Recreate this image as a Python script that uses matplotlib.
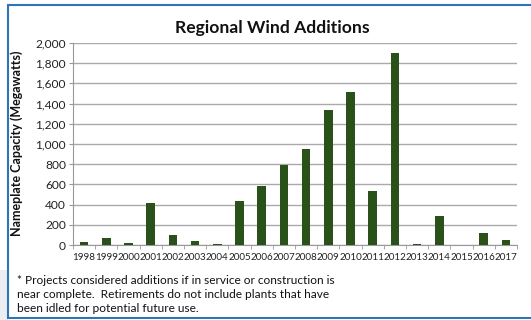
import matplotlib.pyplot as plt
import numpy as np
from matplotlib.patches import Rectangle

years = [str(y) for y in range(1998, 2018)]
capacity_mw = [25, 65, 15, 420, 95, 40, 5, 440, 580, 790, 950, 1340,
               1510, 530, 1905, 5, 285, 0, 115, 50]

note = ("* Projects considered additions if in service or construction is\n"
        "near complete.  Retirements do not include plants that have\n"
        "been idled for potential future use.")

plt.rcParams["font.family"] = ["Lato", "DejaVu Sans"]

fig = plt.figure(figsize=(5.31, 3.20), dpi=100)

# outer frame + faint grey strip at bottom left
fig.patches.append(Rectangle((0, 0), 8 / 531, 50 / 320, transform=fig.transFigure,
                             facecolor="#eceef1", edgecolor="none", zorder=0))
fig.patches.append(Rectangle((8 / 531, 2 / 320), 1.0, 313 / 320, transform=fig.transFigure,
                             facecolor="white", edgecolor="#2e75b6", linewidth=1.5, zorder=1))

ax = fig.add_axes([73 / 531, 1 - 245 / 320, 444 / 531, 202 / 320])
ax.set_zorder(2)
x = np.arange(len(years))
ax.bar(x, capacity_mw, width=0.38, color="#2a5119", zorder=3)

ax.set_xlim(-0.5, len(years) - 0.5)
ax.set_ylim(0, 2000)
ax.set_yticks(range(0, 2001, 200))
ax.set_yticklabels([f"{v:,}" for v in range(0, 2001, 200)], fontsize=8.6, color="#222222")
ax.set_xticks(x)
ax.set_xticklabels(years, fontsize=7.1, color="#222222")
ax.set_xticks(np.arange(-0.5, len(years), 1), minor=True)
ax.tick_params(axis="x", which="major", length=0, pad=6)
ax.tick_params(axis="x", which="minor", length=3, color="#999999")
ax.tick_params(axis="y", length=3, color="#999999", pad=2)

ax.grid(axis="y", color="#aaaaaa", linewidth=1, zorder=0)
ax.set_axisbelow(True)
for side in ["top", "right"]:
    ax.spines[side].set_visible(False)
ax.spines["left"].set_color("#999999")
ax.spines["bottom"].set_color("#999999")
ax.patch.set_alpha(0)

fig.text(272 / 531, 1 - 28 / 320, "Regional Wind Additions", ha="center", va="center",
         fontsize=12.6, fontweight="bold", color="#111111", zorder=5)
fig.text(17 / 531, 1 - 143 / 320, "Nameplate Capacity (Megawatts)", rotation=90,
         ha="center", va="center", fontsize=9, fontweight="bold", color="#111111", zorder=5)
fig.text(17 / 531, 1 - 275 / 320, note, ha="left", va="top", fontsize=8.6,
         color="#111111", linespacing=1.35, zorder=5)

fig.savefig("out.png", dpi=100)
